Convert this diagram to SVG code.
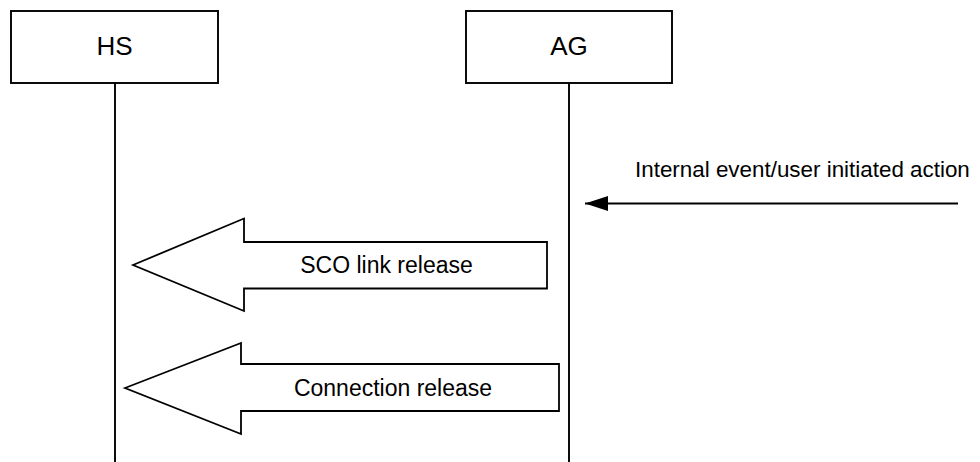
<svg xmlns="http://www.w3.org/2000/svg" width="980" height="462" viewBox="0 0 980 462">
<style>
.box{fill:#fff;stroke:#000;stroke-width:1.9}
.life{stroke:#000;stroke-width:1.9;fill:none}
.big{fill:#fff;stroke:#000;stroke-width:1.8;stroke-linejoin:miter}
.t{font-family:"Liberation Sans",Arial,sans-serif;fill:#000}
.lt{font-size:26px;text-anchor:middle}
.st{font-size:23px;text-anchor:middle}
.it{font-size:22.4px}
</style>
<defs>
<marker id="ah" markerWidth="23" markerHeight="15" refX="23" refY="7.5" orient="auto" markerUnits="userSpaceOnUse">
<path d="M0,0 L23,7.5 L0,15 Z" fill="#000"/>
</marker>
</defs>
<g id="HS">
<rect class="box" x="11" y="11" width="207" height="72"/>
<text class="t lt" x="114.5" y="55">HS</text>
</g>
<g id="AG">
<rect class="box" x="466" y="11" width="206" height="72"/>
<text class="t lt" x="569" y="55">AG</text>
</g>
<g id="lifelines">
<line class="life" x1="115" y1="83" x2="115" y2="462"/>
<line class="life" x1="569" y1="83" x2="569" y2="462"/>
</g>
<g id="connectors">
<g id="internal">
<line x1="958" y1="203.5" x2="585" y2="203.5" stroke="#000" stroke-width="1.8" marker-end="url(#ah)"/>
<text class="t it" x="635" y="177">Internal event/user initiated action</text>
</g>
<g id="sco">
<path class="big" d="M133,265 L244,218.5 L244,242 L547,242 L547,288.5 L244,288.5 L244,311 Z"/>
<text class="t st" x="386.5" y="272.5">SCO link release</text>
</g>
<g id="conn">
<path class="big" d="M125,388 L241,343 L241,364 L559,364 L559,411 L241,411 L241,434 Z"/>
<text class="t st" x="393" y="396">Connection release</text>
</g>
</g>
</svg>
